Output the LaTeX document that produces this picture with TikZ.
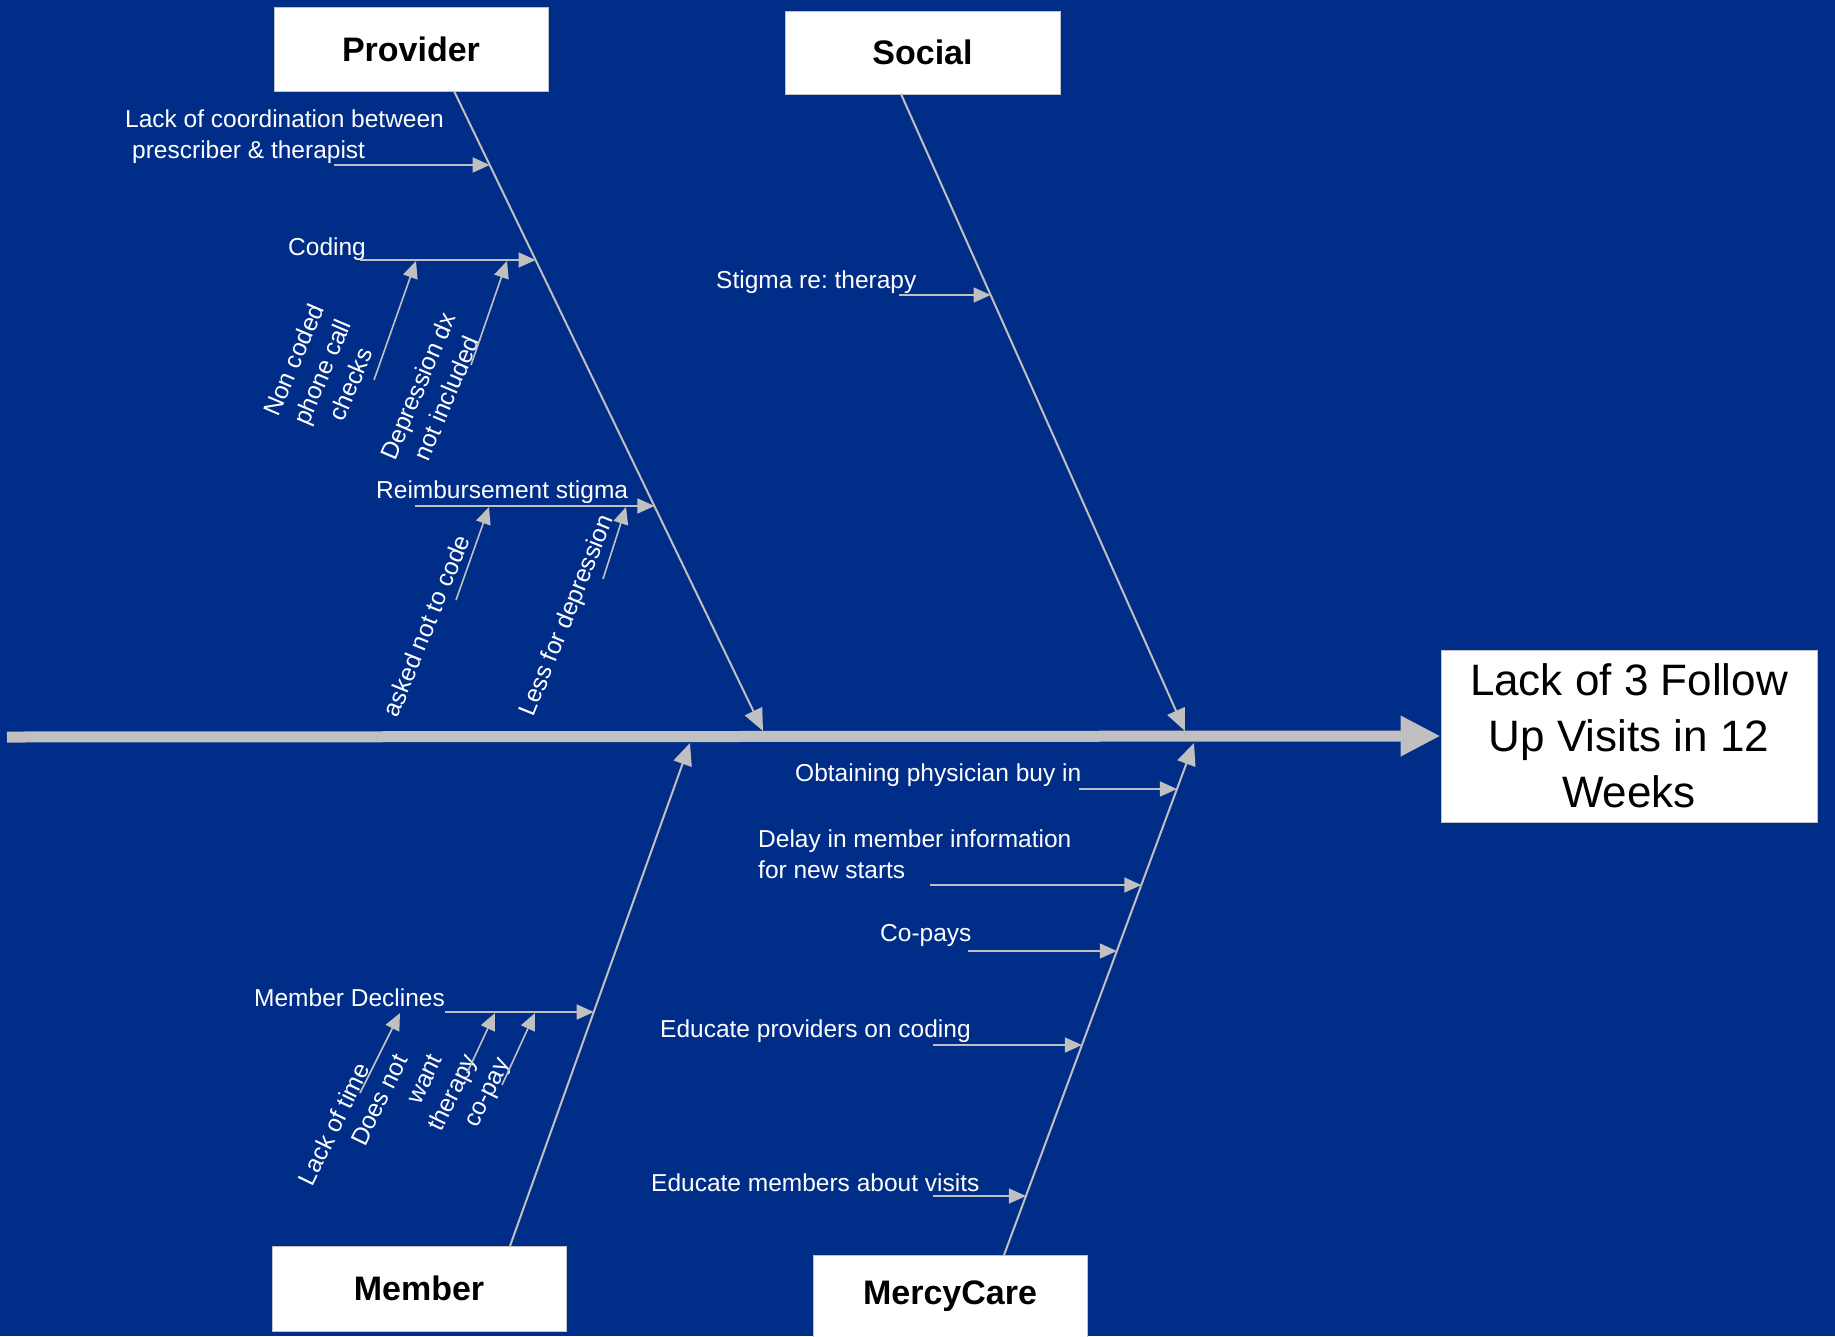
\documentclass[tikz,border=0pt]{standalone}
\usepackage{fontspec}
\setmainfont{Liberation Sans}
\usetikzlibrary{arrows.meta,calc}
\definecolor{bg}{RGB}{0,45,136}
\definecolor{bonec}{RGB}{192,192,192}
\frenchspacing
\begin{document}
\begin{tikzpicture}[x=1pt,y=-1pt,
  lbl/.style={text=white,font=\fontsize{24.5}{31}\selectfont,inner sep=0pt},
  rlbl/.style={lbl,align=center},
  catbox/.style={fill=white,draw=bonec,line width=1pt,inner sep=0pt,
    font=\fontsize{34}{40}\selectfont\bfseries,text=black},
  boneline/.style={draw=bonec,line width=2pt,-{Triangle[length=22pt,width=19pt]}},
  subline/.style={draw=bonec,line width=1.6pt,-{Triangle[length=17pt,width=15pt]}},
]
\fill[bg] (0,0) rectangle (1835,1336);
\useasboundingbox (0,0) rectangle (1835,1336);

% category boxes
\node[catbox,minimum width=274pt,minimum height=84pt] (prov) at (411,49) {Provider};
\node[catbox,minimum width=275pt,minimum height=83pt] (soc) at (922.5,52.5) {Social};
\node[catbox,minimum width=294pt,minimum height=85pt] (mem) at (419,1288.5) {Member};
\node[catbox,minimum width=274pt,minimum height=82pt] (mc) at (950,1296) {MercyCare};

% effect box
\node[fill=white,draw=bonec,line width=1pt,minimum width=376pt,minimum height=172pt,
  align=center,font=\fontsize{44}{56}\selectfont,text=black,inner sep=0pt]
  (eff) at (1629,736) {Lack of 3 Follow\\Up Visits in 12\\Weeks};

% spine
\coordinate (spL) at (7,737);
\draw[draw=bonec,line width=11pt,-{Triangle[length=40pt,width=38pt]}] (spL) -- (eff.west);

% bone coordinates
\coordinate (pb0) at (454,91);   \coordinate (pb1) at (763,731);
\coordinate (sb0) at (901,94);   \coordinate (sb1) at (1185,731);
\coordinate (mb0) at (510,1246); \coordinate (mb1) at (690,743);
\coordinate (cb0) at (1004,1255);\coordinate (cb1) at (1194,743);
\draw[boneline] (pb0) -- (pb1);
\draw[boneline] (sb0) -- (sb1);
\draw[boneline] (mb0) -- (mb1);
\draw[boneline] (cb0) -- (cb1);

% ---- Provider causes
\node[lbl,align=left,anchor=west] (coord) at (125,137)
  {Lack of coordination between\\\hspace{7pt}prescriber \& therapist};
\coordinate (coordS) at (334,165); \coordinate (coordE) at (489.7,165);
\draw[subline] (coordS) -- (coordE);

\node[lbl,anchor=west] (coding) at (288,249) {Coding};
\coordinate (codS) at (360,260); \coordinate (codE) at (535.6,260);
\draw[subline] (codS) -- (codE);

\node[rlbl,rotate=67] (nc) at (322,372) {Non coded\\phone call\\checks};
\coordinate (ncS) at (374,380); \coordinate (ncE) at (416,261);
\draw[subline] (ncS) -- (ncE);
\node[rlbl,rotate=67] (dep) at (432,392) {Depression dx\\not included};
\coordinate (depS) at (471,365); \coordinate (depE) at (507,261);
\draw[subline] (depS) -- (depE);

\node[lbl,anchor=west] (reimb) at (376,492) {Reimbursement stigma};
\coordinate (reS) at (415,506); \coordinate (reE) at (654.4,506);
\draw[subline] (reS) -- (reE);

\node[rlbl,rotate=68] (ask) at (426,626) {asked not to code};
\coordinate (askS) at (456,600); \coordinate (askE) at (489,507);
\draw[subline] (askS) -- (askE);
\node[rlbl,rotate=68] (less) at (568,616) {Less for depression};
\coordinate (lessS) at (603,579); \coordinate (lessE) at (626,507);
\draw[subline] (lessS) -- (lessE);

% ---- Social causes
\node[lbl,anchor=west] (stig) at (716,282) {Stigma re: therapy};
\coordinate (stS) at (899,295); \coordinate (stE) at (990.6,295);
\draw[subline] (stS) -- (stE);

% ---- MercyCare causes
\node[lbl,anchor=west] (obt) at (795,775) {Obtaining physician buy in};
\coordinate (obS) at (1079,789); \coordinate (obE) at (1176.9,789);
\draw[subline] (obS) -- (obE);

\node[lbl,anchor=west,align=left] (delay) at (758,854) {Delay in member information\\for new starts};
\coordinate (dlS) at (930,885); \coordinate (dlE) at (1141.3,885);
\draw[subline] (dlS) -- (dlE);

\node[lbl,anchor=west] (copays) at (880,935) {Co-pays};
\coordinate (cpS) at (968,951); \coordinate (cpE) at (1116.8,951);
\draw[subline] (cpS) -- (cpE);

\node[lbl,anchor=west] (edp) at (660,1031) {Educate providers on coding};
\coordinate (epS) at (933,1045); \coordinate (epE) at (1081.9,1045);
\draw[subline] (epS) -- (epE);

\node[lbl,anchor=west] (edm) at (651,1183) {Educate members about visits};
\coordinate (emS) at (933,1196); \coordinate (emE) at (1025.9,1196);
\draw[subline] (emS) -- (emE);

% ---- Member causes
\node[lbl,anchor=west] (mdec) at (254,998) {Member Declines};
\coordinate (mdS) at (445,1012); \coordinate (mdE) at (593.7,1012);
\draw[subline] (mdS) -- (mdE);

\node[rlbl,rotate=64] (lot) at (334,1124) {Lack of time};
\coordinate (ltS) at (360,1093); \coordinate (ltE) at (400,1013);
\draw[subline] (ltS) -- (ltE);
\node[lbl,align=left,rotate=64] (dnw) at (416,1101)
  {Does not\\\hspace{62pt}want\\\hspace{47pt}therapy};
\coordinate (dwS) at (467,1073); \coordinate (dwE) at (495,1013);
\draw[subline] (dwS) -- (dwE);
\node[rlbl,rotate=64] (cop) at (490,1094) {co-pay};
\coordinate (coS) at (502,1085); \coordinate (coE) at (535,1013);
\draw[subline] (coS) -- (coE);
\end{tikzpicture}
\end{document}
